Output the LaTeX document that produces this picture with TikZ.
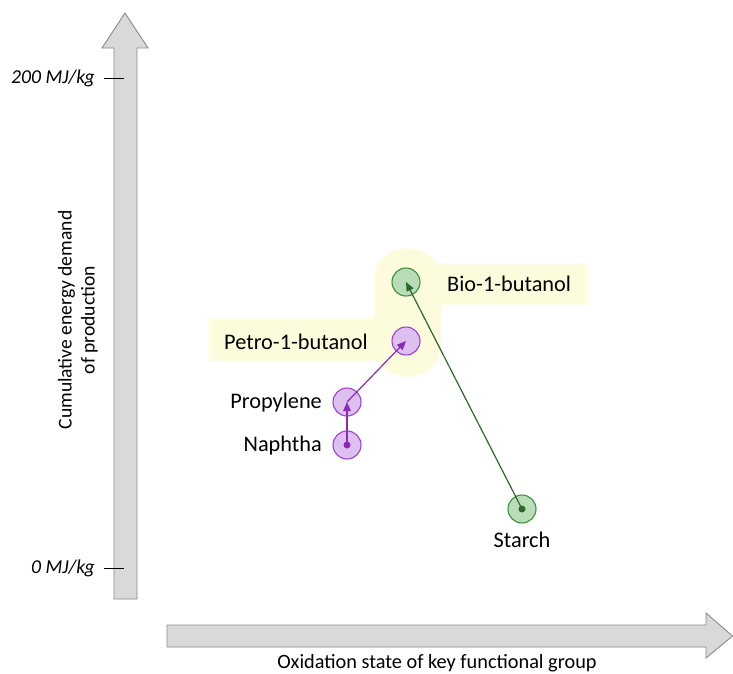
\documentclass[tikz,border=0pt]{standalone}
\usepackage{fontspec}
\setmainfont{Carlito}
\usetikzlibrary{arrows.meta}
\definecolor{axfill}{HTML}{D9D9D9}
\definecolor{axline}{HTML}{8A8A8A}
\definecolor{hilite}{HTML}{FCFCDD}
\definecolor{hilitesoft}{HTML}{FDFDEA}
\definecolor{purfill}{HTML}{DEC0F0}
\definecolor{purline}{HTML}{A040D0}
\definecolor{purdark}{HTML}{8A2BB8}
\definecolor{grnfill}{HTML}{B9DDB6}
\definecolor{grnline}{HTML}{3F8F3F}
\definecolor{grndark}{HTML}{2C682C}
\tikzset{
  axisarrow/.style={fill=axfill,draw=axline,line width=0.9pt},
  tickline/.style={line width=1pt,black},
  ticklabel/.style={anchor=east,font=\fontsize{19.7}{22}\selectfont\itshape,inner sep=0pt},
  purnode/.style={circle,minimum size=28pt,inner sep=0pt,fill=purfill,draw=purline,line width=1.1pt},
  grnnode/.style={circle,minimum size=28pt,inner sep=0pt,fill=grnfill,draw=grnline,line width=1.1pt},
  lbl/.style={font=\fontsize{22.3}{26}\selectfont,inner sep=0pt},
  purarrow/.style={draw=purdark,line width=1.2pt,-{Triangle[length=9pt,width=7.5pt]}},
  grnarrow/.style={draw=grndark,line width=1.2pt,-{Triangle[length=9pt,width=7.5pt]}},
  hl/.style={fill=hilite,draw=hilitesoft,line width=4pt},
}
\begin{document}
\begin{tikzpicture}[x=1pt,y=-1pt]
\useasboundingbox (0,0) rectangle (733,673);
% highlight
\begin{scope}
\path[hl,rounded corners=30pt] (375,250) rectangle (440,375);
\path[hl] (420,265) rectangle (587,303);
\path[hl] (210,320) rectangle (395,360);
\fill[hilite,rounded corners=30pt] (375,250) rectangle (440,375);
\fill[hilite] (420,265) rectangle (585,303);
\fill[hilite] (212,320) rectangle (395,360);
\end{scope}
% axes
\draw[axisarrow] (114,599) -- (114,48) -- (102,48) -- (125,13) -- (148,48) -- (137,48) -- (137,599) -- cycle;
\draw[axisarrow] (167,625) -- (706,625) -- (706,613) -- (732.5,636) -- (706,658) -- (706,647) -- (167,647) -- cycle;
\coordinate (t2a) at (104,78); \coordinate (t2b) at (124,78);
\coordinate (t0a) at (104,568); \coordinate (t0b) at (124,568);
\draw[tickline] (t2a) -- (t2b);
\draw[tickline] (t0a) -- (t0b);
\node[ticklabel] (l200) at (95,78) {200 MJ/kg};
\node[ticklabel] (l0) at (95,568) {0 MJ/kg};
\node[font=\fontsize{20.3}{22}\selectfont,inner sep=0pt,anchor=base] (xlab) at (437,668) {Oxidation state of key functional group};
\node[font=\fontsize{19.6}{23}\selectfont,inner sep=0pt,rotate=90,align=center] (ylab) at (78,320) {Cumulative energy demand\\of production};
% nodes
\node[grnnode] (bio) at (406,282) {};
\node[purnode] (petro) at (406,341) {};
\node[purnode] (prop) at (347,402) {};
\node[purnode] (naph) at (347,445) {};
\node[grnnode] (starch) at (522,509) {};
\node[lbl,anchor=west] (biol) at (447,284) {Bio-1-butanol};
\node[lbl,anchor=east] (petrol) at (368,342) {Petro-1-butanol};
\node[lbl,anchor=east] (propl) at (322,403) {Propylene};
\node[lbl,anchor=east] (naphl) at (322,446) {Naphtha};
\node[lbl,anchor=north] (starchl) at (522,532) {Starch};
% connectors
\draw[purarrow] (naph.center) -- (prop.center);
\draw[purarrow] (prop.center) -- (petro.center);
\draw[grnarrow] (starch.center) -- (bio.center);
\fill[purdark] (naph.center) circle (3.5pt);
\fill[grndark] (starch.center) circle (3.5pt);
\end{tikzpicture}
\end{document}
